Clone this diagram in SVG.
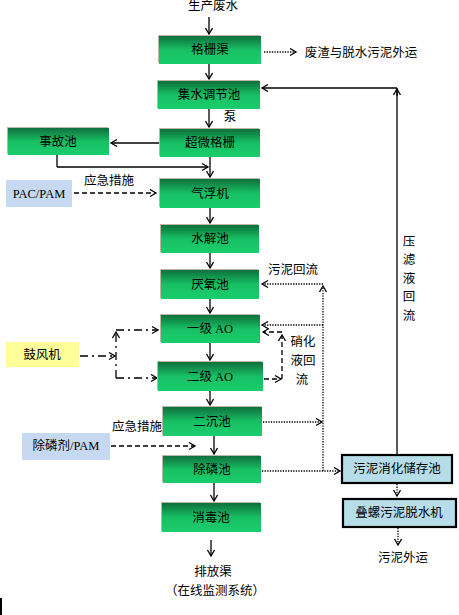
<svg xmlns="http://www.w3.org/2000/svg" width="459" height="615" viewBox="0 0 459 615">
<defs>
<linearGradient id="g" x1="0" y1="0" x2="0" y2="1">
<stop offset="0" stop-color="#0f6f3c"/>
<stop offset="0.5" stop-color="#17c064"/>
<stop offset="1" stop-color="#1acd6c"/>
</linearGradient>
<marker id="a" markerUnits="userSpaceOnUse" markerWidth="10" markerHeight="10" refX="7" refY="4" orient="auto">
<path d="M1,0.5 L7,4 L1,7.5" fill="none" stroke="#000" stroke-width="1.3"/>
</marker>
</defs>
<style>
text{font-family:"Liberation Serif","Noto Sans CJK SC",serif;font-size:12.5px;fill:#000;text-anchor:middle;dominant-baseline:central}
.gb{fill:url(#g)}
.sh{fill:#b8b8a8}
.ln{fill:none;stroke:#000;stroke-width:1.3}
.sol{fill:none;stroke:#000;stroke-width:1.3;marker-end:url(#a)}
.dot{fill:none;stroke:#000;stroke-width:1.3;stroke-dasharray:1.3 1.3}
.dash{fill:none;stroke:#000;stroke-width:1.3;stroke-dasharray:5 3}
.dd{fill:none;stroke:#000;stroke-width:1.3;stroke-dasharray:8 4 2 4}
.blue{fill:#c6d9f0}
.yel{fill:#ffff99}
.sl{fill:#b7dde8;stroke:#000;stroke-width:2.2}
</style>

<g id="edges">
<path class="sol" d="M209,17 V34"/>
<path class="sol" d="M209,64 V79"/>
<path class="sol" d="M209,109 V127"/>
<path class="sol" d="M160,143 H111"/>
<path class="ln" d="M57,155 V167"/>
<path class="sol" d="M57,167 H208"/>
<path class="sol" d="M210,157 V177"/>
<path class="dash" d="M74,193 H156" marker-end="url(#a)"/>
<path class="sol" d="M210,208 V223"/>
<path class="sol" d="M210,253 V268"/>
<path class="sol" d="M210,299 V313"/>
<path class="sol" d="M210,343 V360"/>
<path class="sol" d="M210,391 V405"/>
<path class="sol" d="M214,436 V454"/>
<path class="sol" d="M214,483 V501"/>
<path class="sol" d="M211,540 V556"/>
<path class="dot" d="M264,52 H296" marker-end="url(#a)"/>
<path class="ln" d="M397,454 V88"/>
<path class="sol" d="M397,96 V89"/>
<path class="sol" d="M397,88 H262"/>
<path class="dot" d="M323,471 V286" marker-end="url(#a)"/>
<path class="dot" d="M323,284 H262" marker-end="url(#a)"/>
<path class="dot" d="M323,325 H262" marker-end="url(#a)"/>
<path class="dot" d="M263,422 H322" marker-end="url(#a)"/>
<path class="dot" d="M262,471 H340" marker-end="url(#a)"/>
<path class="dash" d="M264,379 H281" marker-end="url(#a)"/>
<path class="dash" d="M282,379 V335" marker-end="url(#a)"/>
<path class="dash" d="M282,332 H263" marker-end="url(#a)"/>
<path class="dd" d="M80,356 H115" marker-end="url(#a)"/>
<path class="dd" d="M116,378 V332" marker-end="url(#a)"/>
<path class="dd" d="M116,330 H158" marker-end="url(#a)"/>
<path class="dd" d="M116,378 H157" marker-end="url(#a)"/>
<path class="dash" d="M111,446 H195" marker-end="url(#a)"/>
<path class="dot" d="M397,484 V496" marker-end="url(#a)"/>
<path class="dot" d="M398,528 V545" marker-end="url(#a)"/>
</g>

<g id="n-source"><text x="213" y="6">生产废水</text></g>
<g id="n-geshanqu"><rect class="sh" x="158" y="35" width="102" height="28"/><rect class="gb" x="159" y="36" width="102" height="28"/><text x="210" y="50">格栅渠</text></g>
<g id="n-jishui"><rect class="sh" x="157" y="80" width="102" height="28"/><rect class="gb" x="158" y="81" width="102" height="28"/><text x="209" y="95">集水调节池</text></g>
<g id="n-pump"><text x="230" y="117">泵</text></g>
<g id="n-chaowei"><rect class="sh" x="159" y="128" width="100" height="28"/><rect class="gb" x="160" y="129" width="100" height="28"/><text x="210" y="143">超微格栅</text></g>
<g id="n-shigu"><rect class="sh" x="7" y="127" width="101" height="27"/><rect class="gb" x="8" y="128" width="101" height="27"/><text x="58" y="142">事故池</text></g>
<g id="n-pac"><rect class="blue" x="6" y="180" width="66" height="27"/><text x="39" y="194">PAC/PAM</text></g>
<g id="n-yingji1"><text x="109" y="181">应急措施</text></g>
<g id="n-qifu"><rect class="sh" x="159" y="178" width="100" height="29"/><rect class="gb" x="160" y="179" width="100" height="29"/><text x="210" y="194">气浮机</text></g>
<g id="n-shuijie"><rect class="sh" x="160" y="224" width="98" height="28"/><rect class="gb" x="161" y="225" width="98" height="28"/><text x="210" y="239">水解池</text></g>
<g id="n-yanyang"><rect class="sh" x="160" y="269" width="98" height="29"/><rect class="gb" x="161" y="270" width="98" height="29"/><text x="210" y="285">厌氧池</text></g>
<g id="n-ao1"><rect class="sh" x="160" y="314" width="99" height="28"/><rect class="gb" x="161" y="315" width="99" height="28"/><text x="210" y="329">一级 AO</text></g>
<g id="n-ao2"><rect class="sh" x="157" y="361" width="105" height="29"/><rect class="gb" x="158" y="362" width="105" height="29"/><text x="210" y="377">二级 AO</text></g>
<g id="n-erchen"><rect class="sh" x="162" y="406" width="99" height="29"/><rect class="gb" x="163" y="407" width="99" height="29"/><text x="212" y="422">二沉池</text></g>
<g id="n-chulin"><rect class="sh" x="162" y="455" width="98" height="27"/><rect class="gb" x="163" y="456" width="98" height="27"/><text x="212" y="470">除磷池</text></g>
<g id="n-xiaodu"><rect class="sh" x="161" y="502" width="99" height="29"/><rect class="gb" x="162" y="503" width="99" height="29"/><text x="211" y="518">消毒池</text></g>
<g id="n-paifang"><text x="213" y="572">排放渠</text><text x="215" y="591">（在线监测系统）</text></g>
<g id="n-feizha"><text x="361" y="53">废渣与脱水污泥外运</text></g>
<g id="n-yalv"><text x="409" y="242">压</text><text x="409" y="260">滤</text><text x="409" y="279">液</text><text x="409" y="297">回</text><text x="409" y="316">流</text></g>
<g id="n-wunihuiliu"><text x="293" y="270">污泥回流</text></g>
<g id="n-xiaohua"><text x="303" y="342">硝化</text><text x="303" y="361">液回</text><text x="302" y="380">流</text></g>
<g id="n-gufeng"><rect class="yel" x="6" y="342" width="73" height="25"/><text x="42" y="355">鼓风机</text></g>
<g id="n-chulinji"><rect class="blue" x="22" y="433" width="88" height="27"/><text x="66" y="446">除磷剂/PAM</text></g>
<g id="n-yingji2"><text x="137" y="427">应急措施</text></g>
<g id="n-xiaohuachucun"><rect class="sl" x="342" y="455" width="110" height="28"/><text x="397" y="469">污泥消化储存池</text></g>
<g id="n-dieluo"><rect class="sl" x="343" y="499" width="113" height="28"/><text x="399" y="513">叠螺污泥脱水机</text></g>
<g id="n-waiyun"><text x="403" y="558">污泥外运</text></g>
<rect x="0" y="598" width="2" height="17" fill="#000"/>
</svg>
